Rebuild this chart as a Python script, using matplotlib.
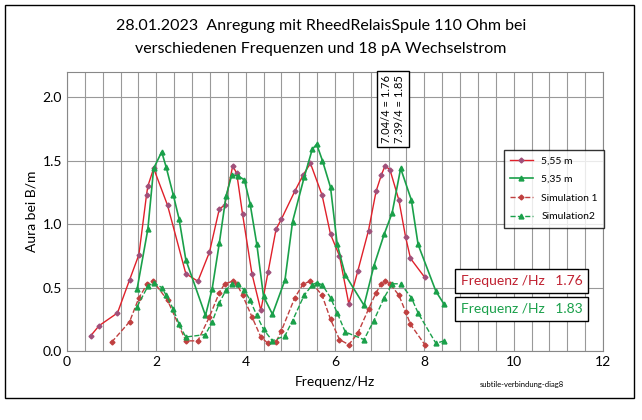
import matplotlib
matplotlib.use("Agg")
import matplotlib.pyplot as plt
from matplotlib.ticker import MultipleLocator
from matplotlib.patches import Rectangle

plt.rcParams["font.family"] = "Lato"

x_555 = [0.53,0.72,1.13,1.40,1.61,1.78,1.81,1.94,2.25,2.66,2.93,3.19,3.41,3.53,3.71,3.80,3.93,4.14,4.34,4.50,4.68,4.80,5.10,5.29,5.45,5.71,5.90,6.10,6.31,6.51,6.75,6.92,7.04,7.12,7.23,7.43,7.58,7.69,8.01]
y_555 = [0.12,0.20,0.30,0.56,0.76,1.23,1.30,1.44,1.15,0.61,0.55,0.78,1.12,1.15,1.46,1.40,1.08,0.61,0.32,0.62,0.96,1.04,1.26,1.39,1.48,1.23,0.92,0.75,0.37,0.63,0.95,1.26,1.39,1.46,1.43,1.19,0.90,0.73,0.58]
x_535 = [1.57,1.81,1.94,2.12,2.22,2.38,2.51,2.66,3.10,3.25,3.41,3.56,3.69,3.83,3.97,4.10,4.25,4.40,4.60,4.88,5.05,5.31,5.49,5.59,5.72,5.90,6.05,6.23,6.65,6.87,7.10,7.28,7.47,7.71,7.86,8.26,8.44]
y_535 = [0.49,0.96,1.44,1.57,1.45,1.23,1.04,0.72,0.28,0.49,0.85,1.22,1.39,1.38,1.35,1.16,0.84,0.43,0.29,0.56,1.02,1.37,1.59,1.63,1.50,1.29,0.84,0.60,0.36,0.67,0.92,1.09,1.44,1.19,0.84,0.47,0.37]
x_sim1 = [1.0,1.40,1.61,1.80,1.93,2.25,2.66,2.93,3.19,3.41,3.53,3.71,3.80,3.93,4.14,4.34,4.50,4.68,4.80,5.10,5.29,5.45,5.71,5.90,6.10,6.31,6.51,6.75,6.92,7.04,7.12,7.23,7.43,7.58,7.69,8.01]
y_sim1 = [0.07,0.23,0.42,0.53,0.55,0.40,0.08,0.08,0.27,0.46,0.53,0.55,0.53,0.44,0.27,0.11,0.06,0.07,0.16,0.42,0.53,0.55,0.44,0.25,0.09,0.05,0.14,0.33,0.46,0.53,0.55,0.53,0.44,0.31,0.21,0.05]
x_sim2 = x_535
y_sim2 = [0.35,0.51,0.54,0.50,0.44,0.33,0.21,0.11,0.13,0.23,0.38,0.48,0.53,0.53,0.48,0.40,0.28,0.17,0.08,0.12,0.24,0.44,0.52,0.54,0.52,0.42,0.30,0.15,0.09,0.24,0.42,0.53,0.53,0.42,0.30,0.06,0.08]

red = "#e0202a"; marker_red = "#a0507a"; green = "#1aa04a"; simred = "#c04040"

fig = plt.figure(figsize=(6.42, 4.2), dpi=100)
fig.patches.append(Rectangle((5/642, 22/420), 629/642, 393/420, transform=fig.transFigure,
                             fill=False, edgecolor="black", lw=1))
ax = fig.add_axes([67/642, 69/420, 536/642, 279/420])
ax.plot(x_555, y_555, color=red, lw=1, marker="D", ms=2.5, mfc=marker_red, mec=marker_red, label="5,55 m")
ax.plot(x_535, y_535, color=green, lw=1.2, marker="^", ms=3.5, label="5,35 m")
ax.plot(x_sim1, y_sim1, color=simred, lw=1, ls="--", marker="D", ms=2.5, label="Simulation 1")
ax.plot(x_sim2, y_sim2, color=green, lw=1, ls="--", marker="^", ms=3.5, label="Simulation2")
ax.set_xlim(0, 12); ax.set_ylim(0, 2.2)
ax.xaxis.set_major_locator(MultipleLocator(2)); ax.xaxis.set_minor_locator(MultipleLocator(0.4))
ax.set_yticks([0, 0.5, 1.0, 1.5, 2.0])
ax.set_yticklabels(["0.0", "0.5", "1.0", "1.5", "2.0"])
ax.grid(which="both", axis="x", color="#999999", lw=0.8)
ax.grid(which="major", axis="y", color="#999999", lw=0.8)
ax.tick_params(which="both", length=0, labelsize=10)
for s in ax.spines.values():
    s.set_color("#888888")
ax.set_xlabel("Frequenz/Hz", fontsize=10, labelpad=6)
ax.set_ylabel("Aura bei B/m", fontsize=10)
fig.text(0.5, 390/420, "28.01.2023  Anregung mit RheedRelaisSpule 110 Ohm bei", ha="center", fontsize=11.5)
fig.text(0.5, 367/420, "verschiedenen Frequenzen und 18 pA Wechselstrom", ha="center", fontsize=11.5)
ax.legend(loc="upper left", bbox_to_anchor=(0.805, 0.74), fontsize=7.5, frameon=True, fancybox=False,
          edgecolor="black", handlelength=2.2, borderpad=0.6, labelspacing=0.9)
fig.text(393/642, 345/420, "7.04/4 = 1.76\n7.39/4 = 1.85", rotation=90, ha="center", va="top", fontsize=8,
         bbox=dict(boxstyle="square,pad=0.4", fc="white", ec="black"))
fig.text(461/642, 135/420, "Frequenz /Hz   1.76", color="#c02030", fontsize=10,
         bbox=dict(boxstyle="square,pad=0.4", fc="white", ec="black"))
fig.text(461/642, 107/420, "Frequenz /Hz   1.83", color=green, fontsize=10,
         bbox=dict(boxstyle="square,pad=0.4", fc="white", ec="black"))
fig.text(522/642, 33/420, "subtile-verbindung-diag8", fontsize=5.5, ha="center")
fig.savefig("out.png", dpi=100)
